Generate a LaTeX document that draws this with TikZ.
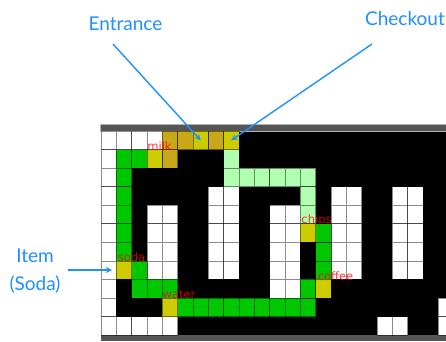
\documentclass[tikz,border=0pt]{standalone}
\usepackage{fontspec}
\setmainfont{Lato}
\newfontfamily\itemfont{DejaVu Sans}
\usetikzlibrary{arrows.meta}
\definecolor{callout}{HTML}{1E90FF}
\definecolor{bargray}{HTML}{555555}
\definecolor{pathgreen}{HTML}{00C800}
\definecolor{palegreen}{HTML}{B0FFB0}
\definecolor{stopyellow}{HTML}{CCCC00}
\definecolor{crowdgold}{HTML}{C8A818}
\tikzset{
	cell/.style={draw=black, draw opacity=.45, line width=.8pt, inner sep=0pt, outer sep=0pt, minimum width=15.33pt, minimum height=18.56pt},
	callouttext/.style={text=callout, font=\fontsize{19}{21}\selectfont, inner sep=0pt},
	itemtext/.style={text=red, text opacity=.8, font=\itemfont\fontsize{11.5}{12}\selectfont, inner sep=0pt},
	callout/.style={draw=callout, line width=1.4pt, -{Stealth[length=6pt,width=6pt]}}
}
\begin{document}
\begin{tikzpicture}[x=1pt, y=-1pt]
	\useasboundingbox (0,0) rectangle (446,341);
	\clip (0,0) rectangle (446,341);
	% store floor
	\fill[black] (101,131) rectangle (446,335);
	\draw[fill=bargray, draw=black!30, line width=.6pt] (100.5,124) rectangle (447,131);
	\fill[bargray] (100.5,335) rectangle (446,341);
	\begin{scope}[shift={(101,131)}, x=15.33pt, y=-18.56pt]
		% shelves
		\foreach \col/\rows in {0/{0,1,...,10}, 1/{0,10}, 2/{0,10}, 3/{0,4,5,6,7,10}, 4/{4,5,6,7,10}, 7/{3,4,5,6,7}, 8/{3,4,5,6,7}, 11/{4,5,6,7,8}, 12/{4,5,6,7,8}, 15/{3,4,5,6,7}, 16/{3,4,5,6,7}, 18/{10}, 19/{3,4,5,6,7,10}, 20/{3,4,5,6,7}, 22/{9,10}}
			\foreach \row in \rows
				\node[cell, fill=white] (w\col-\row) at (\col+.5,\row+.5) {};
		% route
		\foreach \col/\row in {1/1,2/1,1/2,1/3,1/4,1/5,1/6,2/7,2/8,3/8,4/8,5/9,6/9,7/9,8/9,9/9,10/9,11/9,12/9,13/9,13/8,14/7,14/6,14/5}
			\node[cell, fill=pathgreen] (g\col-\row) at (\col+.5,\row+.5) {};
		\foreach \col/\row in {8/1,8/2,9/2,10/2,11/2,12/2,13/2,13/3,13/4}
			\node[cell, fill=palegreen] (p\col-\row) at (\col+.5,\row+.5) {};
		\foreach \col/\row in {4/0,5/0,7/0,4/1}
			\node[cell, fill=crowdgold] (c\col-\row) at (\col+.5,\row+.5) {};
		\foreach \col/\row in {6/0,8/0,3/1,1/7,4/9,13/5,14/8}
			\node[cell, fill=stopyellow] (y\col-\row) at (\col+.5,\row+.5) {};
	\end{scope}
	% items
	\node[itemtext] (milk) at (159.5,146) {milk};
	\node[itemtext] (chips) at (316.5,220) {chips};
	\node[itemtext] (soda) at (131.5,257) {soda};
	\node[itemtext] (coffee) at (335.5,276) {coffee};
	\node[itemtext] (water) at (179,295) {water};
	% callouts
	\node[callouttext] (entrance) at (125.5,24) {Entrance};
	\node[callouttext] (checkout) at (405,19) {Checkout};
	\node[callouttext] (itemlabel) at (35,256) {Item};
	\node[callouttext] (sodalabel) at (35,285) {(Soda)};
	\coordinate (entrancestart) at (113,44);
	\coordinate (checkoutstart) at (372,44);
	\coordinate (itemstart) at (68,270);
	\coordinate (itemend) at (112,270);
	\draw[callout] (entrancestart) -- (y6-0.center);
	\draw[callout] (checkoutstart) -- (y8-0.center);
	\draw[callout] (itemstart) -- (itemend);
\end{tikzpicture}
\end{document}
